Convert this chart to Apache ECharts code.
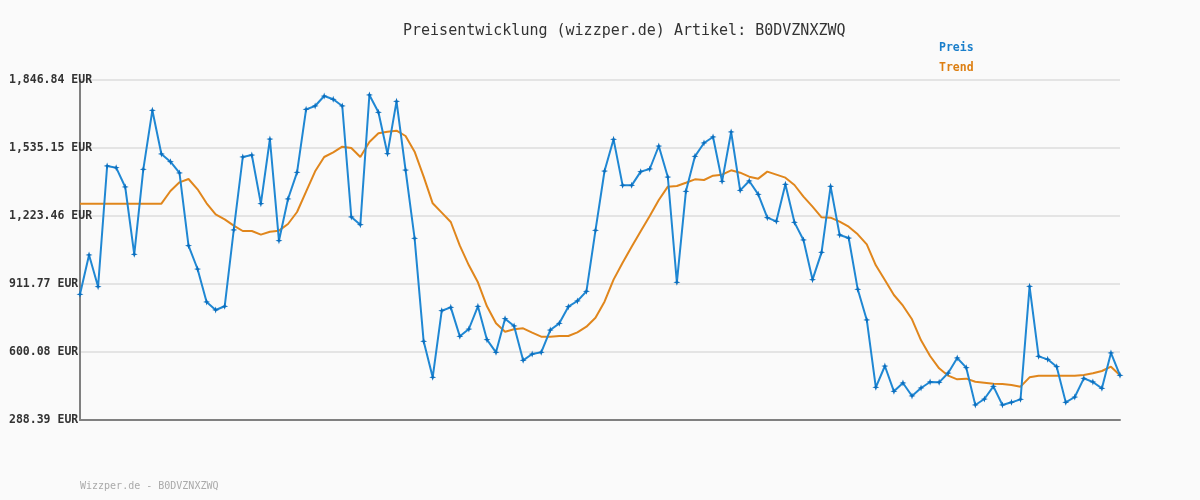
<!DOCTYPE html>
<html>
<head>
<meta charset="utf-8">
<script src="https://cdn.jsdelivr.net/npm/echarts@6/dist/echarts.min.js"></script>
<style>
  html, body { margin: 0; padding: 0; background: #fafafa; }
  #chart { width: 1200px; height: 500px; }
</style>
</head>
<body>
<div id="chart"></div>
<script>
// Preis (blue), one value per day
var preis = [
  864.6, 1044.7, 899.4, 1452.7, 1445.0, 1356.4, 1047.8, 1437.5, 1707.9, 1507.7,
  1472.4, 1420.6, 1087.4, 980.5, 829.3, 792.6, 809.6, 1159.3, 1493.9, 1503.0,
  1280.0, 1576.4, 1110.3, 1301.4, 1423.6, 1712.4, 1727.7, 1773.5, 1758.4, 1727.7,
  1218.9, 1183.7, 1778.1, 1698.7, 1509.2, 1749.1, 1434.3, 1121.2, 649.0, 484.0,
  789.4, 804.8, 671.9, 705.5, 809.6, 656.6, 598.6, 752.9, 719.3, 561.9,
  590.9, 598.6, 700.9, 731.5, 807.9, 833.9, 878.2, 1157.8, 1429.7, 1574.9,
  1364.0, 1364.0, 1426.7, 1438.9, 1544.3, 1402.2, 919.6, 1336.6, 1497.0, 1558.1,
  1585.6, 1382.4, 1608.5, 1341.1, 1383.9, 1322.8, 1215.8, 1199.0, 1368.6, 1194.4,
  1113.5, 931.7, 1056.9, 1359.4, 1136.4, 1122.6, 887.4, 746.8, 438.1, 535.9,
  419.8, 458.0, 398.4, 435.1, 462.6, 461.0, 503.8, 572.6, 528.3, 357.2,
  384.6, 442.7, 357.2, 369.4, 383.1, 901.1, 580.2, 566.5, 532.9, 369.4,
  393.8, 479.4, 462.6, 433.6, 595.5, 493.2
];

// Trend (orange)
var trend = [
  1280.0, 1280.0, 1280.0, 1280.0, 1280.0, 1280.0, 1280.0, 1280.0, 1280.0, 1280.0,
  1338.0, 1377.8, 1393.0, 1345.7, 1281.6, 1231.0, 1208.2, 1179.2, 1154.7, 1154.7,
  1137.9, 1151.6, 1156.2, 1186.8, 1241.8, 1335.0, 1428.2, 1493.9, 1515.4, 1541.3,
  1535.2, 1493.9, 1562.7, 1602.4, 1610.0, 1614.6, 1590.2, 1518.4, 1403.8, 1281.6,
  1238.8, 1196.0, 1087.4, 997.4, 919.6, 809.6, 731.5, 693.3, 704.0, 708.6,
  688.7, 670.4, 670.4, 673.4, 673.4, 690.2, 716.2, 757.4, 830.8, 931.7,
  1009.6, 1082.9, 1153.2, 1223.5, 1296.8, 1357.9, 1361.0, 1376.1, 1391.5, 1388.5,
  1408.3, 1412.9, 1432.8, 1422.0, 1403.8, 1394.6, 1426.7, 1412.9, 1399.2, 1365.6,
  1312.0, 1266.1, 1217.4, 1215.8, 1197.4, 1174.4, 1139.5, 1093.7, 997.4, 930.1,
  861.4, 812.4, 749.9, 653.6, 581.7, 525.2, 491.6, 474.8, 477.9, 464.0,
  459.5, 454.8, 453.0, 448.8, 441.2, 484.0, 491.6, 491.6, 491.6, 491.6,
  491.6, 494.6, 502.4, 513.0, 532.9, 493.2
];

var categories = preis.map(function (v, i) { return i + 1; });

// y axis ticks as printed on the chart
var yTicks = [288.39, 600.08, 911.77, 1223.46, 1535.15, 1846.84];

var mono = '"DejaVu Sans Mono", monospace';

function fmtEur(v) {
  return Number(v).toLocaleString('en-US', { minimumFractionDigits: 2, maximumFractionDigits: 2 }) + ' EUR';
}

var chart = echarts.init(document.getElementById('chart'));
chart.setOption({
  backgroundColor: '#fafafa',
  animation: false,
  title: {
    text: 'Preisentwicklung (wizzper.de) Artikel: B0DVZNXZWQ',
    left: 398,
    top: 19,
    textStyle: { fontFamily: mono, fontSize: 15, fontWeight: 'normal', color: '#333' }
  },
  graphic: [{
    type: 'text',
    left: 80,
    top: 481,
    style: { text: 'Wizzper.de - B0DVZNXZWQ', fontFamily: mono, fontSize: 10, fill: '#aaa' }
  }],
  legend: {
    orient: 'vertical',
    left: 934,
    top: 36,
    itemGap: 7,
    itemWidth: 0,
    icon: 'none',
    selectedMode: false,
    data: [
      { name: 'Preis', textStyle: { color: '#1a7fcb' } },
      { name: 'Trend', textStyle: { color: '#dd7f12' } }
    ],
    textStyle: { fontFamily: mono, fontSize: 11.5, fontWeight: 'bold', padding: [0, 0, 0, -5] }
  },
  grid: { left: 80, right: 80, top: 80, bottom: 80 },
  xAxis: {
    type: 'category',
    data: categories,
    boundaryGap: false,
    axisLine: { lineStyle: { color: '#808080', width: 2 } },
    axisTick: { show: false },
    axisLabel: { show: false },
    splitLine: { show: false }
  },
  yAxis: {
    type: 'value',
    min: yTicks[0],
    max: yTicks[yTicks.length - 1],
    axisLine: { show: true, lineStyle: { color: '#808080', width: 2 } },
    axisTick: { show: false, customValues: yTicks },
    axisLabel: {
      customValues: yTicks,
      align: 'left',
      margin: 71,
      fontFamily: mono,
      fontSize: 11.5,
      fontWeight: 'bold',
      color: '#333',
      formatter: fmtEur
    },
    splitLine: { show: true, lineStyle: { color: '#e4e4e4', width: 2 } }
  },
  series: [
    {
      name: 'Preis',
      type: 'line',
      data: preis,
      z: 3,
      symbol: 'path://M0,-4L1,-1L4,0L1,1L0,4L-1,1L-4,0L-1,-1Z',
      symbolSize: 7,
      showAllSymbol: true,
      lineStyle: { color: '#1f87d3', width: 2 },
      itemStyle: { color: '#0b6fbf' }
    },
    {
      name: 'Trend',
      type: 'line',
      data: trend,
      z: 2,
      symbol: 'none',
      lineStyle: { color: '#e0861c', width: 2 },
      itemStyle: { color: '#e0861c' }
    }
  ]
});
</script>
</body>
</html>
